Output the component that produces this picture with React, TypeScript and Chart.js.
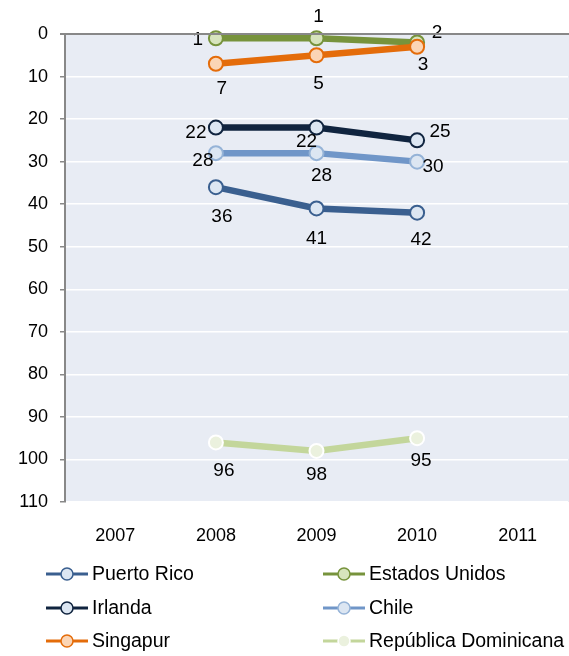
import React, { useEffect, useRef } from "react";
import { Chart, registerables } from "chart.js";

Chart.register(...registerables);

const years = ["2007", "2008", "2009", "2010", "2011"];
const puertoRico = [null, 36, 41, 42, null];
const estadosUnidos = [null, 1, 1, 2, null];
const irlanda = [null, 22, 22, 25, null];
const chile = [null, 28, 28, 30, null];
const singapur = [null, 7, 5, 3, null];
const republicaDominicana = [null, 96, 98, 95, null];
const yTicks = [0, 10, 20, 30, 40, 50, 60, 70, 80, 90, 100, 110];

// label offsets (dx, dy) relative to each point, styling only
const labelOffsets: Record<string, [number, number][]> = {
  "Puerto Rico": [[0, 0], [6, 30], [0, 30], [4, 27], [0, 0]],
  "Estados Unidos": [[0, 0], [-18, 2], [2, -21], [20, -10], [0, 0]],
  "Irlanda": [[0, 0], [-20, 5], [-10, 14], [23, -9], [0, 0]],
  "Chile": [[0, 0], [-13, 8], [5, 23], [16, 5], [0, 0]],
  "Singapur": [[0, 0], [6, 25], [2, 28], [6, 18], [0, 0]],
  "República Dominicana": [[0, 0], [8, 28], [0, 24], [4, 23], [0, 0]],
};

const FONT = "'Liberation Sans', Arial, sans-serif";

export default function App() {
  const ref = useRef<HTMLCanvasElement | null>(null);
  useEffect(() => {
    document.body.style.margin = "0";
    const ctx = ref.current!.getContext("2d")!;
    const mk = (label: string, data: (number | null)[], line: string, fill: string, border: string, order: number) => ({
      label,
      data,
      order,
      borderColor: line,
      backgroundColor: line,
      borderWidth: 6.5,
      pointRadius: 7,
      pointBorderWidth: 2,
      pointBackgroundColor: fill,
      pointBorderColor: border,
      tension: 0,
      spanGaps: false,
      clip: false,
    });
    const datasets = [
      mk("Puerto Rico", puertoRico, "#3A5F8F", "#DCE6F2", "#3A5F8F", 1),
      mk("Estados Unidos", estadosUnidos, "#77933C", "#D7E4BD", "#77933C", 1),
      mk("Irlanda", irlanda, "#10243F", "#DCE6F2", "#10243F", 1),
      mk("Chile", chile, "#7096C8", "#DCE6F2", "#95B3D7", 1),
      mk("Singapur", singapur, "#E46C0A", "#FBD5B5", "#E46C0A", 0),
      mk("República Dominicana", republicaDominicana, "#C3D69B", "#EBF1DE", "#FFFFFF", 1),
    ];

    const bgPlugin = {
      id: "bg",
      beforeDraw(chart: any) {
        const { ctx, chartArea: a } = chart;
        ctx.save();
        ctx.fillStyle = "#E8ECF4";
        ctx.fillRect(a.left, a.top, chart.width - a.left, a.bottom - a.top);
        ctx.restore();
      },
      afterDraw(chart: any) {
        const { ctx, chartArea: a } = chart;
        ctx.save();
        ctx.strokeStyle = "#888888";
        ctx.lineWidth = 2;
        ctx.beginPath();
        ctx.moveTo(a.left - 5, a.top);
        ctx.lineTo(chart.width, a.top);
        ctx.stroke();
        ctx.restore();
      },
    };

    const labelPlugin = {
      id: "labels",
      afterDatasetsDraw(chart: any) {
        const { ctx } = chart;
        ctx.save();
        ctx.font = `19px ${FONT}`;
        ctx.fillStyle = "#000000";
        ctx.textAlign = "center";
        ctx.textBaseline = "middle";
        chart.data.datasets.forEach((ds: any, i: number) => {
          const meta = chart.getDatasetMeta(i);
          meta.data.forEach((pt: any, j: number) => {
            const v = ds.data[j];
            if (v == null) return;
            const off = labelOffsets[ds.label][j];
            ctx.fillText(String(v), pt.x + off[0], pt.y + off[1]);
          });
        });
        ctx.restore();
      },
    };

    const legendPlugin = {
      id: "customLegend",
      afterDraw(chart: any) {
        const { ctx } = chart;
        const cols = [46, 323];
        const rows = [574, 608, 641];
        ctx.save();
        ctx.font = `19.5px ${FONT}`;
        ctx.textBaseline = "middle";
        ctx.textAlign = "left";
        chart.data.datasets.forEach((ds: any, i: number) => {
          const x = cols[i % 2];
          const y = rows[Math.floor(i / 2)];
          ctx.strokeStyle = ds.borderColor;
          ctx.lineWidth = 3;
          ctx.beginPath();
          ctx.moveTo(x, y);
          ctx.lineTo(x + 42, y);
          ctx.stroke();
          ctx.beginPath();
          ctx.arc(x + 21, y, 6, 0, Math.PI * 2);
          ctx.fillStyle = ds.pointBackgroundColor;
          ctx.fill();
          ctx.lineWidth = 1.5;
          ctx.strokeStyle = ds.pointBorderColor;
          ctx.stroke();
          ctx.fillStyle = "#000000";
          ctx.fillText(ds.label, x + 46, y + 1);
        });
        ctx.restore();
      },
    };

    const chart = new Chart(ctx, {
      type: "line",
      data: { labels: years, datasets: datasets as any },
      plugins: [bgPlugin, labelPlugin, legendPlugin],
      options: {
        animation: false,
        responsive: false,
        maintainAspectRatio: false,
        layout: { autoPadding: false, padding: { top: 34, right: 1, bottom: 103, left: 1 } },
        plugins: { legend: { display: false }, tooltip: { enabled: false } },
        scales: {
          x: {
            offset: true,
            grid: { display: false, drawTicks: false },
            border: { display: false },
            ticks: { font: { size: 18, family: FONT }, color: "#000000", padding: 23, maxRotation: 0 },
            afterFit(scale: any) {
              scale.height = 51;
              scale.paddingLeft = 0;
              scale.paddingRight = 0;
            },
          },
          y: {
            reverse: true,
            min: 0,
            max: 110,
            afterBuildTicks(scale: any) {
              scale.ticks = yTicks.map((v) => ({ value: v }));
            },
            grid: { color: "#FFFFFF", lineWidth: 1.5, tickColor: "#888888", tickLength: 5, drawTicks: true },
            border: { color: "#888888", width: 2 },
            ticks: { font: { size: 18, family: FONT }, color: "#000000", padding: 12 },
            afterFit(scale: any) {
              scale.width = 64;
              scale.paddingTop = 0;
              scale.paddingBottom = 0;
            },
          },
        },
      },
    });
    return () => chart.destroy();
  }, []);
  return <canvas ref={ref} width={569} height={656} style={{ display: "block" }} />;
}
